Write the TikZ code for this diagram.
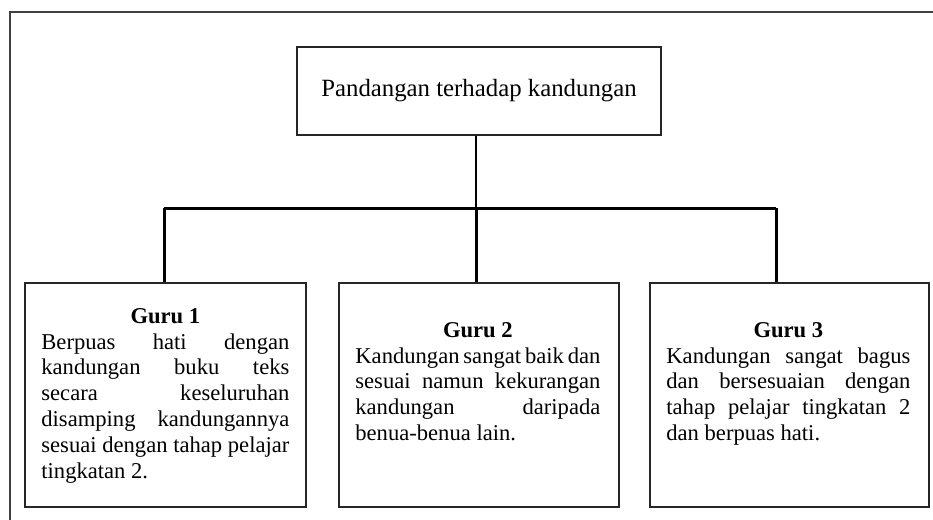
\documentclass[tikz,border=0pt]{standalone}
\usepackage{fontspec}
\setmainfont{Liberation Serif}
\newlength\colw
% one justified line of a column, and the ragged last line
\newcommand\jl[1]{\makebox[\colw][s]{#1}}
\newcommand\lastline[1]{\makebox[\colw][l]{#1}}
\newcommand\setcol[1]{\global\colw=#1\relax}
\tikzset{
  frame/.style={draw=black!75, line width=0.8pt},
  titlebox/.style={draw=black!85, line width=0.8pt, minimum width=182pt,
    minimum height=44pt, inner sep=0pt, font=\fontsize{12.4}{14}\selectfont},
  gurubox/.style={draw=black!85, line width=0.8pt, minimum height=112pt, inner sep=0pt},
  gurutext/.style={anchor=north west, inner sep=0pt, align=center,
    font=\fontsize{11.3}{12.9}\selectfont},
  bus/.style={line width=1.5pt},
  stem/.style={line width=1pt},
}
\begin{document}
\begin{tikzpicture}[x=0.5pt, y=-0.5pt]
\useasboundingbox (0,0) rectangle (933,520);
% page frame
\draw[frame] (933,12) -- (10,12) -- (10,520);

% heading box
\node[titlebox] (top) at (479,91) {Pandangan terhadap kandungan};

% the three teacher boxes
\node[gurubox, minimum width=140.5pt] (b1) at (165.5,395) {};
\node[gurubox, minimum width=140pt]   (b2) at (479,395) {};
\node[gurubox, minimum width=139.5pt] (b3) at (789.5,395) {};

\setcol{124pt}
\node[gurutext] (t1) at (41,308) {%
  \textbf{Guru 1}\\
  \jl{Berpuas hati dengan}\\
  \jl{kandungan buku teks}\\
  \jl{secara keseluruhan}\\
  \jl{disamping kandungannya}\\
  \jl{sesuai dengan tahap pelajar}\\
  \lastline{tingkatan 2.}};

\setcol{122.5pt}
\node[gurutext] (t2) at (355,322) {%
  \textbf{Guru 2}\\
  \jl{Kandungan sangat baik dan}\\
  \jl{sesuai namun kekurangan}\\
  \jl{kandungan daripada}\\
  \lastline{benua-benua lain.}};

\setcol{122pt}
\node[gurutext] (t3) at (666,322) {%
  \textbf{Guru 3}\\
  \jl{Kandungan sangat bagus}\\
  \jl{dan bersesuaian dengan}\\
  \jl{tahap pelajar tingkatan 2}\\
  \lastline{dan berpuas hati.}};

% tree connectors
\coordinate (j1) at (164,208);
\coordinate (j2) at (476,208);
\coordinate (j3) at (776,208);
\draw[stem] (top.south -| j2) -- (j2);
\draw[bus] (j1) -- (j3);
\draw[bus] (j1) -- (j1 |- b1.north);
\draw[bus] (j2) -- (j2 |- b2.north);
\draw[bus] (j3) -- (j3 |- b3.north);
\end{tikzpicture}
\end{document}
